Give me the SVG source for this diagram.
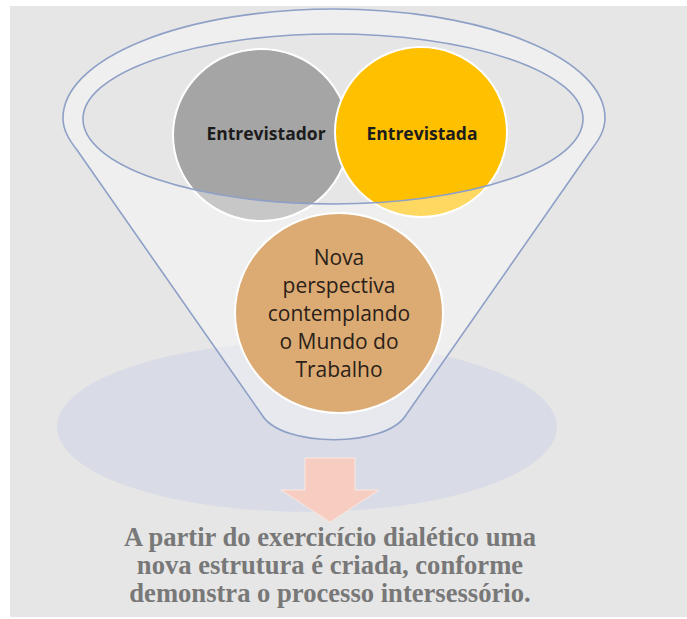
<svg xmlns="http://www.w3.org/2000/svg" width="687" height="619" viewBox="0 0 687 619">
  <style>
    .outline { fill: none; stroke: #8ea0c6; stroke-width: 1.6; }
    .node-circle { stroke: #ffffff; stroke-width: 2; }
    .label-bold { font-family: "Open Sans", "Liberation Sans", sans-serif; font-weight: bold; font-size: 17.5px; fill: #1c1c1c; text-anchor: middle; }
    .label-body { font-family: "Open Sans", "Liberation Sans", sans-serif; font-size: 21px; fill: #2b2118; text-anchor: middle; }
    .caption { font-family: "Liberation Serif", "Times New Roman", serif; font-weight: bold; font-size: 26.6px; fill: #787878; text-anchor: middle; }
  </style>
  <rect x="0" y="0" width="687" height="619" fill="#ffffff"/>
  <rect x="10" y="6" width="677" height="611" fill="#e6e6e6"/>

  <!-- shadow under funnel -->
  <ellipse cx="307" cy="427" rx="250" ry="85" fill="#d9dce6"/>

  <!-- nodes: top circles -->
  <g id="entrevistador">
    <ellipse class="node-circle" cx="261" cy="135" rx="88" ry="86" fill="#a5a5a5"/>
  </g>
  <g id="entrevistada">
    <ellipse class="node-circle" cx="421" cy="132" rx="86" ry="85" fill="#ffc000"/>
  </g>

  <!-- funnel -->
  <g id="funnel">
    <path fill="#ffffff" fill-opacity="0.38" fill-rule="evenodd"
      d="M 63 118 A 271 109 0 0 1 605 118 C 605 131 598 141 591 150 L 406 415 C 386 448 282 448 262 415 L 77 150 C 70 141 63 131 63 118 Z
         M 83 119 A 250 85 0 0 0 583 119 A 250 85 0 0 0 83 119 Z"/>
  </g>

  <g id="nova-perspectiva">
    <ellipse class="node-circle" cx="339" cy="313" rx="104" ry="100" fill="#dcab74" stroke-width="1.5"/>
  </g>

  <g id="funnel-outline">
    <path class="outline" d="M 63 118 A 271 109 0 0 1 605 118 C 605 131 598 141 591 150 L 406 415 C 386 448 282 448 262 415 L 77 150 C 70 141 63 131 63 118 Z"/>
    <ellipse class="outline" cx="333" cy="119" rx="250" ry="85"/>
  </g>

  <g id="labels">
    <text class="label-bold" x="266" y="140">Entrevistador</text>
    <text class="label-bold" x="422" y="140">Entrevistada</text>
    <text class="label-body" x="339" y="265">Nova</text>
    <text class="label-body" x="339" y="293">perspectiva</text>
    <text class="label-body" x="339" y="321">contemplando</text>
    <text class="label-body" x="339" y="349">o Mundo do</text>
    <text class="label-body" x="339" y="377">Trabalho</text>
  </g>

  <g id="connectors">
    <path d="M 305 458 L 355 458 L 355 490 L 379 490 L 330 522 L 281 490 L 305 490 Z" fill="#f7cdc1" stroke="#fbe6df" stroke-width="1"/>
  </g>

  <g id="caption">
    <text class="caption" x="330" y="546">A partir do exercicício dialético uma</text>
    <text class="caption" x="330" y="574">nova estrutura é criada, conforme</text>
    <text class="caption" x="330" y="602">demonstra o processo intersessório.</text>
  </g>
</svg>
